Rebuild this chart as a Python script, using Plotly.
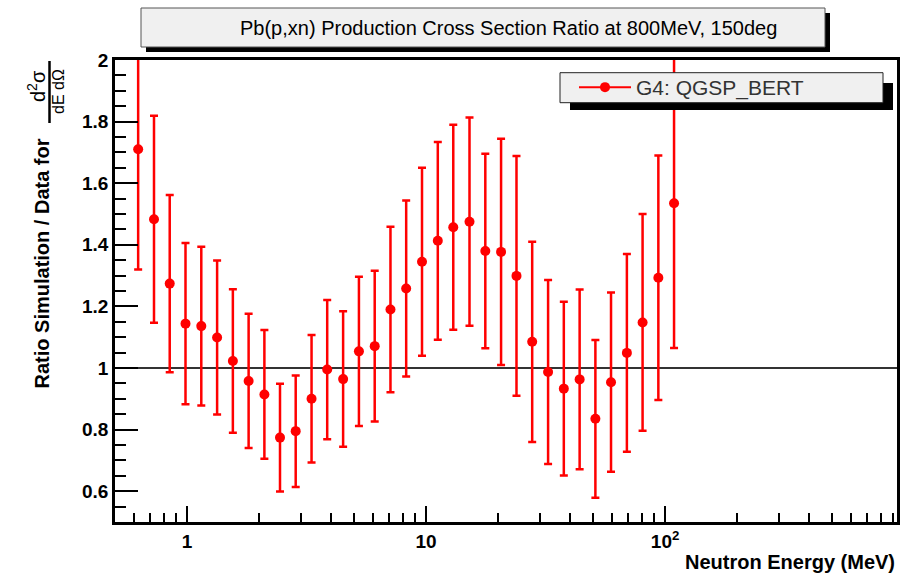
import plotly.graph_objects as go

# Neutron energy bin centres (MeV)
energy_mev = [0.625, 0.728, 0.847, 0.986, 1.148, 1.337, 1.556, 1.811, 2.108, 2.45,
              2.85, 3.32, 3.86, 4.50, 5.24, 6.10, 7.10, 8.26, 9.62, 11.2,
              13.0, 15.2, 17.7, 20.6, 23.9, 27.8, 32.4, 37.7, 43.9, 51.1,
              59.4, 69.2, 80.5, 93.7, 109.0]

# Ratio simulation / data
ratio = [1.710, 1.483, 1.274, 1.144, 1.136, 1.099, 1.023, 0.958, 0.914, 0.774,
         0.795, 0.900, 0.995, 0.964, 1.054, 1.071, 1.190, 1.258, 1.345, 1.413,
         1.457, 1.475, 1.380, 1.377, 1.299, 1.085, 0.987, 0.933, 0.963, 0.835,
         0.954, 1.049, 1.148, 1.293, 1.535]

# Uncertainty on the ratio
ratio_err = [0.390, 0.336, 0.288, 0.262, 0.258, 0.250, 0.233, 0.218, 0.209, 0.175,
             0.181, 0.207, 0.226, 0.220, 0.242, 0.245, 0.269, 0.286, 0.305, 0.321,
             0.333, 0.338, 0.316, 0.367, 0.389, 0.325, 0.299, 0.282, 0.292, 0.256,
             0.291, 0.321, 0.352, 0.397, 0.470]

x_major_ticks = [1, 10, 100]
x_major_labels = ["1", "10", "10<sup>2</sup>"]
x_minor_ticks = [0.6, 0.7, 0.8, 0.9,
                 2, 3, 4, 5, 6, 7, 8, 9,
                 20, 30, 40, 50, 60, 70, 80, 90,
                 200, 300, 400, 500, 600, 700, 800, 900]

FONT = "Liberation Sans"
RED = "#ff0000"

# pixel geometry of the frame inside the 915x577 page
W, H = 915, 577
L, R, T, B = 115, 18, 60, 55
PW, PH = W - L - R, H - T - B


def px(x):
    return (x - L) / PW


def py(y):
    return (H - B - y) / PH


fig = go.Figure()

fig.add_trace(go.Scatter(
    x=energy_mev, y=ratio,
    mode="markers",
    marker=dict(color=RED, size=10, symbol="circle"),
    error_y=dict(type="data", array=ratio_err, visible=True,
                 color=RED, thickness=2.5, width=4),
    showlegend=False,
))

# legend entry (line + marker glyph)
fig.add_trace(go.Scatter(
    x=[None], y=[None], mode="lines+markers",
    name="G4: QGSP_BERT",
    line=dict(color=RED, width=2),
    marker=dict(color=RED, size=10),
))

shapes = [
    # reference line at ratio = 1
    dict(type="line", xref="paper", yref="y", x0=0, x1=1, y0=1, y1=1,
         line=dict(color="#333333", width=2), layer="below"),
    # title box with shadow
    dict(type="rect", xref="paper", yref="paper",
         x0=px(146), x1=px(830), y0=py(52), y1=py(13),
         fillcolor="black", line=dict(width=0), layer="above"),
    dict(type="rect", xref="paper", yref="paper",
         x0=px(141), x1=px(825), y0=py(47), y1=py(8),
         fillcolor="#f0f0f0", line=dict(color="#555555", width=1), layer="above"),
    # legend box with shadow
    dict(type="rect", xref="paper", yref="paper",
         x0=px(570), x1=px(893), y0=py(110), y1=py(83),
         fillcolor="black", line=dict(width=0), layer="above"),
    dict(type="rect", xref="paper", yref="paper",
         x0=px(560), x1=px(883), y0=py(102.7), y1=py(72.7),
         fillcolor="#f0f0f0", line=dict(color="#222222", width=1), layer="above"),
    # fraction bar in the y-axis title
    dict(type="line", xref="paper", yref="paper",
         x0=px(49.5), x1=px(49.5), y0=py(123), y1=py(61),
         line=dict(color="black", width=2.5)),
]

annotations = [
    dict(text="Pb(p,xn) Production Cross Section Ratio at 800MeV, 150deg",
         xref="paper", yref="paper", x=px(508), y=py(28),
         xanchor="center", yanchor="middle", showarrow=False,
         font=dict(family=FONT, size=20, color="black")),
    dict(text="Neutron Energy (MeV)",
         xref="paper", yref="paper", x=px(897), y=py(562),
         xanchor="right", yanchor="middle", showarrow=False,
         font=dict(family=FONT, size=20, color="black", weight="bold")),
    dict(text="Ratio Simulation / Data for",
         xref="paper", yref="paper", x=px(41), y=py(263.5),
         xanchor="center", yanchor="middle", showarrow=False, textangle=-90,
         font=dict(family=FONT, size=20, color="black", weight="bold")),
    dict(text="d<sup>2</sup>σ",
         xref="paper", yref="paper", x=px(36), y=py(86),
         xanchor="center", yanchor="middle", showarrow=False, textangle=-90,
         font=dict(family=FONT, size=20, color="black")),
    dict(text="dE dΩ",
         xref="paper", yref="paper", x=px(58.5), y=py(91.5),
         xanchor="center", yanchor="middle", showarrow=False, textangle=-90,
         font=dict(family=FONT, size=16, color="black")),
]

fig.update_layout(
    width=W, height=H,
    margin=dict(l=L, r=R, t=T, b=B),
    paper_bgcolor="white", plot_bgcolor="white",
    font=dict(family=FONT, size=20, color="black"),
    shapes=shapes,
    annotations=annotations,
    showlegend=True,
    legend=dict(x=px(574), y=py(87.5), xanchor="left", yanchor="middle",
                bgcolor="rgba(0,0,0,0)", borderwidth=0,
                font=dict(family=FONT, size=21, color="#333333"),
                itemwidth=52),
)

fig.update_xaxes(
    type="log", range=[-0.301, 2.97],
    tickmode="array", tickvals=x_major_ticks, ticktext=x_major_labels,
    ticks="inside", ticklen=16, tickwidth=2, tickcolor="black",
    minor=dict(tickmode="array", tickvals=x_minor_ticks, ticks="inside",
               ticklen=9, tickwidth=2, tickcolor="black"),
    showline=True, linewidth=2.5, linecolor="black", mirror=True,
    showgrid=False, zeroline=False,
    tickfont=dict(family=FONT, size=19, color="black", weight="bold"),
)

fig.update_yaxes(
    range=[0.5, 2.0], tick0=0, dtick=0.2,
    ticks="inside", ticklen=23, tickwidth=2, tickcolor="black",
    minor=dict(dtick=0.05, ticks="inside", ticklen=11, tickwidth=2,
               tickcolor="black"),
    showline=True, linewidth=2.5, linecolor="black", mirror=True,
    showgrid=False, zeroline=False,
    tickfont=dict(family=FONT, size=19, color="black", weight="bold"),
)

fig.write_html("out.html")
